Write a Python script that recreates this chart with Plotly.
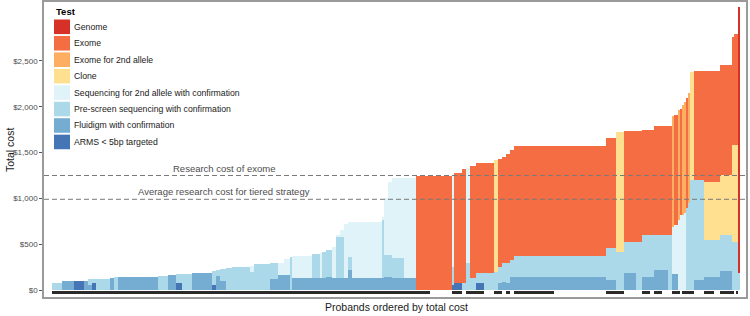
import numpy as np
import plotly.graph_objects as go

# ---------------- data (run-length encoded probands, ordered by total cost) ----------------
run_count = [5, 6, 5, 2, 2, 2, 7, 2, 2, 20,
             5, 4, 3, 5, 10, 2, 2, 3, 3, 9,
             2, 8, 4, 3, 3, 1, 10, 4, 1, 2,
             3, 2, 2, 2, 2, 2, 15, 1, 2, 2,
             6, 6, 7, 11, 1, 4, 2, 2, 3, 4,
             5, 2, 2, 2, 2, 2, 20, 26, 5, 4,
             6, 3, 4, 2, 4, 3, 2, 1, 2, 1,
             1, 1, 1, 1, 1, 2, 5, 5, 3, 6,
             1, 1, 1, 1]

arms = [0, 0, 98, 0, 0, 76, 0, 0, 0, 0,
        0, 0, 73, 0, 0, 60, 0, 0, 0, 0,
        0, 0, 0, 0, 0, 0, 0, 0, 0, 0,
        0, 0, 0, 0, 0, 0, 0, 0, 0, 0,
        0, 0, 0, 0, 50, 76, 0, 0, 0, 75,
        0, 0, 0, 0, 0, 0, 0, 0, 0, 0,
        0, 0, 0, 0, 0, 0, 0, 0, 0, 0,
        0, 0, 0, 0, 0, 0, 0, 0, 0, 0,
        0, 0, 0, 0]

fluidigm = [0, 98, 0, 100, 60, 0, 0, 130, 0, 146,
            0, 162, 0, 0, 182, 0, 150, 100, 0, 0,
            0, 0, 120, 164, 164, 0, 127, 127, 127, 127,
            140, 127, 127, 127, 127, 218, 127, 127, 140, 140,
            127, 127, 0, 0, 0, 0, 0, 0, 0, 0,
            0, 0, 80, 90, 73, 146, 146, 146, 109, 0,
            185, 0, 145, 145, 218, 218, 0, 180, 180, 0,
            0, 0, 0, 0, 0, 0, 109, 146, 146, 211,
            0, 0, 0, 0]

prescreen = [80, 0, 0, 0, 57, 41, 125, 0, 137, 0,
             152, 0, 105, 180, 0, 145, 65, 128, 240, 255,
             200, 280, 170, 0, 0, 364, 0, 268, 0, 293,
             297, 0, 448, 453, 0, 139, 0, 633, 242, 242,
             219, 0, 0, 0, 200, 0, 80, 300, 130, 107,
             182, 200, 175, 201, 218, 184, 225, 225, 346, 418,
             342, 527, 455, 455, 382, 382, 600, 0, 0, 0,
             0, 0, 0, 900, 950, 1201, 1092, 400, 400, 389,
             520, 520, 520, 185]

seq2nd = [0, 0, 0, 0, 0, 0, 0, 0, 0, 0,
          0, 0, 0, 0, 0, 0, 0, 0, 0, 0,
          62, 0, 0, 136, 176, 0, 243, 0, 273, 0,
          0, 343, 25, 80, 593, 389, 619, 40, 618, 798,
          873, 1095, 0, 0, 1000, 0, 0, 1035, 0, 0,
          0, 0, 0, 0, 0, 0, 0, 0, 0, 0,
          0, 0, 0, 0, 0, 0, 0, 511, 530, 764,
          819, 819, 840, 0, 0, 0, 0, 0, 0, 0,
          0, 0, 0, 0]

clone = [0, 0, 0, 0, 0, 0, 0, 0, 0, 0,
         0, 0, 0, 0, 0, 0, 0, 0, 0, 0,
         0, 0, 0, 0, 0, 0, 0, 0, 0, 0,
         0, 0, 0, 0, 0, 0, 0, 0, 0, 0,
         0, 0, 0, 0, 0, 0, 0, 0, 0, 0,
         0, 1219, 0, 0, 0, 0, 0, 0, 0, 1303,
         0, 0, 0, 0, 0, 0, 0, 0, 0, 0,
         0, 0, 0, 0, 0, 1182, 0, 637, 637, 656,
         1063, 1063, 1063, 0]

exome2nd = [0, 0, 0, 0, 0, 0, 0, 0, 0, 0,
            0, 0, 0, 0, 0, 0, 0, 0, 0, 0,
            0, 0, 0, 0, 0, 0, 0, 0, 0, 0,
            0, 0, 0, 0, 0, 0, 0, 0, 0, 0,
            0, 0, 0, 0, 0, 0, 0, 0, 0, 0,
            0, 0, 0, 0, 0, 0, 0, 0, 0, 0,
            0, 0, 0, 0, 0, 0, 0, 1209, 0, 1201,
            0, 1201, 1210, 0, 1200, 0, 0, 0, 0, 0,
            0, 0, 0, 0]

exome = [0, 0, 0, 0, 0, 0, 0, 0, 0, 0,
         0, 0, 0, 0, 0, 0, 0, 0, 0, 0,
         0, 0, 0, 0, 0, 0, 0, 0, 0, 0,
         0, 0, 0, 0, 0, 0, 0, 0, 0, 0,
         0, 0, 1245, 1245, 0, 1201, 1241, 0, 1227, 1201,
         1201, 0, 1171, 1164, 1193, 1198, 1197, 1197, 1201, 0,
         1208, 1213, 1147, 1147, 1194, 1194, 1194, 0, 1200, 0,
         1157, 0, 0, 1200, 0, 0, 1193, 1211, 1211, 1196,
         1182, 1217, 1217, 0]

genome = [0] * 83 + [2908]

diagnosed = [1] * 42 + [1, 0, 1, 1, 0, 1, 1, 1,
                        0, 1, 1, 0, 1, 0, 1, 0, 1, 1,
                        0, 0, 1, 0, 1, 0, 0, 1, 1, 1,
                        0, 1, 1, 1, 1, 1, 0, 1, 0, 1,
                        1, 0, 1, 0]

test_names = ["Genome", "Exome", "Exome for 2nd allele", "Clone",
              "Sequencing for 2nd allele with confirmation",
              "Pre-screen sequencing with confirmation",
              "Fluidigm with confirmation", "ARMS < 5bp targeted"]
test_colors = ["#D73027", "#F46D43", "#FDAE61", "#FEE090",
               "#E0F3F8", "#ABD9E9", "#74ADD1", "#4575B4"]

EXOME_RESEARCH_COST = 1250
TIERED_AVERAGE_COST = 990
y_ticks = [0, 500, 1000, 1500, 2000, 2500]

# ---------------- build ----------------
counts = np.array(run_count)
series_runs = [genome, exome, exome2nd, clone, seq2nd, prescreen, fluidigm, arms]
series = [np.repeat(np.array(s, dtype=float), counts) for s in series_runs]
diag = np.repeat(np.array(diagnosed), counts)
n = int(counts.sum())
idx = np.arange(n)

fig = go.Figure()
base = np.zeros(n)
# stack bottom (ARMS) to top (Genome)
for name, col, vals in reversed(list(zip(test_names, test_colors, series))):
    fig.add_trace(go.Bar(x=idx, y=vals, base=base.copy(), width=1,
                         marker=dict(color=col, line=dict(width=0)),
                         name=name, showlegend=False))
    base = base + vals

# diagnosed rug below zero
fig.add_trace(go.Bar(x=idx, y=np.where(diag == 1, 30, 0), base=-40, width=1,
                     marker=dict(color="#2b2b2b", line=dict(width=0)),
                     showlegend=False, name="diagnosed"))

# plot area geometry (pixels) for custom legend / titles
W, H = 750, 316
ML, MR, MT, MB = 44, 4, 2, 19
PW, PH = W - ML - MR, H - MT - MB


def px(x):
    return (x - ML) / PW


def py(y):
    return (H - MB - y) / PH


shapes = []
annotations = []
for yv in [EXOME_RESEARCH_COST, TIERED_AVERAGE_COST]:
    shapes.append(dict(type="line", xref="paper", x0=0, x1=1, yref="y", y0=yv, y1=yv,
                       line=dict(color="#7a7a7a", width=1, dash="5px,3px"), layer="above"))

annotations.append(dict(x=85.5, y=EXOME_RESEARCH_COST, xref="x", yref="y",
                        text="Research cost of exome", showarrow=False,
                        yanchor="bottom", yshift=0,
                        font=dict(size=9.5, color="#4d4d4d")))
annotations.append(dict(x=85.5, y=TIERED_AVERAGE_COST, xref="x", yref="y",
                        text="Average research cost for tiered strategy", showarrow=False,
                        yanchor="bottom", yshift=0,
                        font=dict(size=9.5, color="#4d4d4d")))

# axis titles
annotations.append(dict(x=px(10), y=py(150), xref="paper", yref="paper",
                        text="Total cost", showarrow=False, textangle=-90,
                        xanchor="center", yanchor="middle",
                        font=dict(size=10.5, color="#1a1a1a")))
annotations.append(dict(x=px(396), y=py(306.5), xref="paper", yref="paper",
                        text="Probands ordered by total cost", showarrow=False,
                        xanchor="center", yanchor="middle",
                        font=dict(size=10.5, color="#1a1a1a")))

# legend
annotations.append(dict(x=px(53.5), y=py(11.8), xref="paper", yref="paper",
                        text="<b>Test</b>", showarrow=False, xanchor="left", yanchor="middle",
                        font=dict(size=9.5, color="#000000")))
for k, (name, col) in enumerate(zip(test_names, test_colors)):
    top = 19.5 + 16.45 * k
    shapes.append(dict(type="rect", xref="paper", yref="paper",
                       x0=px(54), x1=px(70), y0=py(top), y1=py(top + 14.6),
                       fillcolor=col, line=dict(width=0), layer="above"))
    annotations.append(dict(x=px(72.3), y=py(top + 7.3), xref="paper", yref="paper",
                            text=name, showarrow=False, xanchor="left", yanchor="middle",
                            font=dict(size=8.7, color="#1a1a1a")))

fig.update_layout(
    width=W, height=H,
    margin=dict(l=ML, r=MR, t=MT, b=MB, autoexpand=False),
    paper_bgcolor="white", plot_bgcolor="white",
    barmode="overlay", bargap=0,
    font=dict(family="Liberation Sans, Arial, sans-serif", color="#333333"),
    shapes=shapes, annotations=annotations,
    showlegend=False,
)
fig.update_xaxes(range=[-4.5, n + 2.5], showgrid=False, zeroline=False,
                 showticklabels=False, ticks="", automargin=False,
                 showline=True, linecolor="#9a9a9a", linewidth=1.5, mirror=True)
fig.update_yaxes(range=[-76.4, 3144], showgrid=False, zeroline=False,
                 tickvals=y_ticks, tickformat="$,.0f", automargin=False,
                 ticks="outside", ticklen=3, tickcolor="#555555", tickwidth=1,
                 tickfont=dict(size=8, color="#4d4d4d"),
                 showline=True, linecolor="#9a9a9a", linewidth=1.5, mirror=True)

fig.write_html("out.html", config={"displayModeBar": False},
               post_script="document.body.style.margin='0';document.body.style.padding='0';")
